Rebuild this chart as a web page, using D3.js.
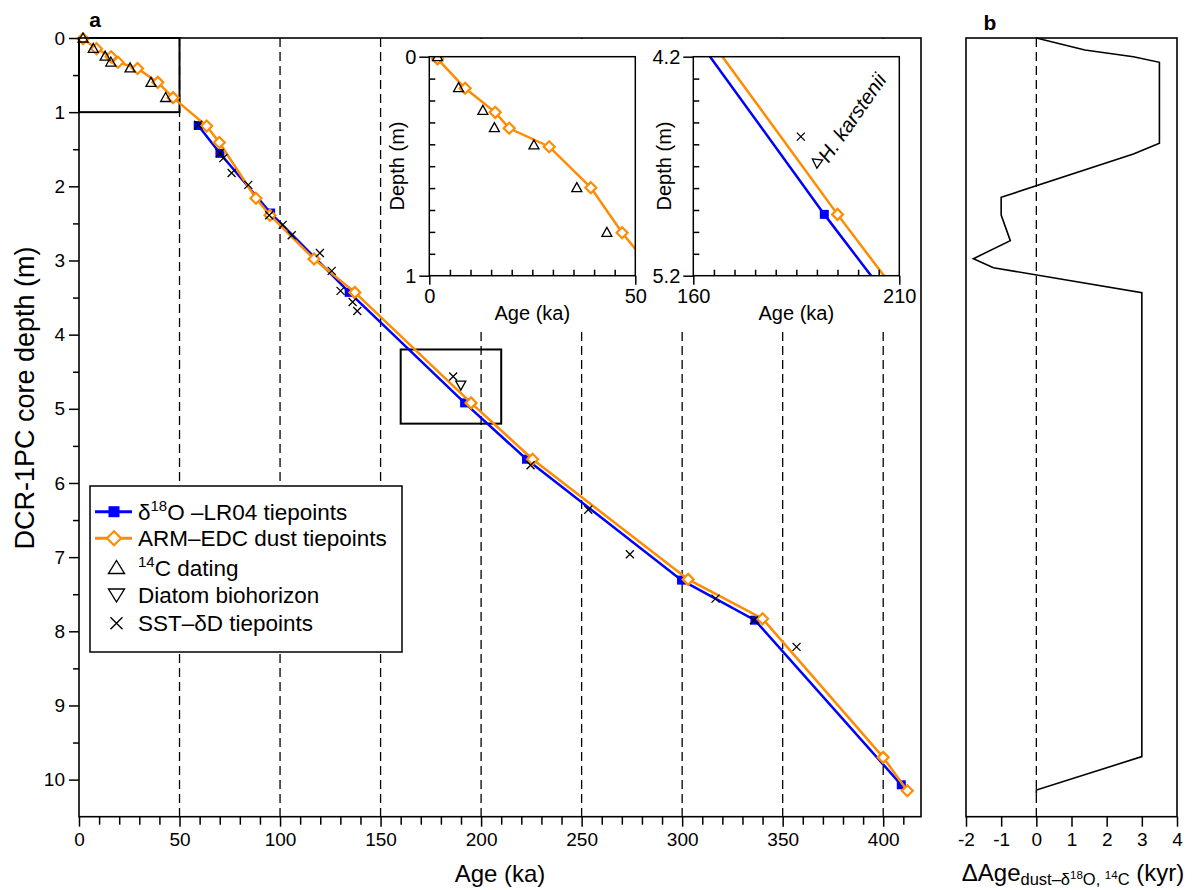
<!DOCTYPE html>
<html>
<head>
<meta charset="utf-8">
<script src="https://cdn.jsdelivr.net/npm/d3@7"></script>
<style>
body { margin: 0; background: #fff; }
text { font-family: "Liberation Sans", Arial, Helvetica, sans-serif; fill: #000; }
</style>
</head>
<body>
<svg width="1196" height="890"></svg>
<script>
// ---- data (age in ka, depth in m) ----
var o18Age   = [59.3, 70.1, 95.3, 134.4, 191.8, 222.6, 299.7, 336.2, 409.0];
var o18Depth = [1.18, 1.555, 2.36, 3.43, 4.92, 5.68, 7.31, 7.85, 10.07];

var dustAge   = [2.0, 8.7, 16.0, 19.4, 29.1, 39.2, 46.8, 63.5, 69.8, 88.0, 95.0, 116.9, 137.2, 195.0, 225.6, 303.0, 340.0, 400.0, 412.0];
var dustDepth = [0.01, 0.144, 0.254, 0.327, 0.411, 0.598, 0.804, 1.187, 1.41, 2.16, 2.39, 2.98, 3.43, 4.92, 5.68, 7.30, 7.83, 9.70, 10.15];

var c14Age   = [2.0, 7.1, 13.0, 15.8, 25.4, 35.8, 43.1];
var c14Depth = [0.0, 0.141, 0.245, 0.324, 0.403, 0.598, 0.802];

var diatomAge   = [189.9];
var diatomDepth = [4.68];

var sstAge   = [59.3, 70.1, 71.8, 75.9, 84.2, 94.6, 101.3, 105.8, 119.8, 125.7, 130.1, 136.1, 138.4, 186.1, 224.6, 253.3, 274.0, 316.6, 335.7, 356.9];
var sstDepth = [1.17, 1.55, 1.62, 1.82, 1.98, 2.39, 2.52, 2.66, 2.90, 3.14, 3.41, 3.56, 3.68, 4.565, 5.76, 6.36, 6.96, 7.56, 7.85, 8.21];

// panel b: age difference (kyr) against depth
var dAge      = [0, 1.38, 2.76, 3.5, 3.5, 2.76, -1.0, -1.0, -0.74, -1.79, -1.22, 3.0, 3.0, 0, 0];
var dAgeDepth = [0, 0.162, 0.252, 0.328, 1.42, 1.564, 2.148, 2.387, 2.733, 2.976, 3.097, 3.435, 9.69, 10.14, 10.19];

var ageTicks   = [0, 50, 100, 150, 200, 250, 300, 350, 400];
var depthTicks = [0, 1, 2, 3, 4, 5, 6, 7, 8, 9, 10];
var gridAges   = [50, 100, 150, 200, 250, 300, 350, 400];
var dAgeTicks  = [-2, -1, 0, 1, 2, 3, 4];

var BLUE = "#0000ff", ORANGE = "#ff8c00";

function zip(a, b) { return a.map(function(v, i) { return [v, b[i]]; }); }

var svg = d3.select("svg");

var x = d3.scaleLinear().domain([0, 418.8]).range([79, 921]);
var y = d3.scaleLinear().domain([0, 10.5]).range([38, 816.7]);

// marker shapes
var triUp = "M0,-5L5,4L-5,4Z";
var triDown = "M0,5L5,-4L-5,-4Z";
var diamond = "M0,-5.5L5.5,0L0,5.5L-5.5,0Z";
var cross = "M-4,-4L4,4M-4,4L4,-4";

function drawSeries(g, sx, sy) {
  var line = d3.line().x(function(d) { return sx(d[0]); }).y(function(d) { return sy(d[1]); });
  g.append("path").datum(zip(o18Age, o18Depth)).attr("d", line)
    .attr("fill", "none").attr("stroke", BLUE).attr("stroke-width", 2.5);
  g.selectAll(".sq").data(zip(o18Age, o18Depth)).enter().append("rect")
    .attr("x", function(d) { return sx(d[0]) - 4.5; }).attr("y", function(d) { return sy(d[1]) - 4.5; })
    .attr("width", 9).attr("height", 9).attr("fill", BLUE);
  g.append("path").datum(zip(dustAge, dustDepth)).attr("d", line)
    .attr("fill", "none").attr("stroke", ORANGE).attr("stroke-width", 2.5);
  g.selectAll(".dm").data(zip(dustAge, dustDepth)).enter().append("path")
    .attr("d", diamond).attr("transform", function(d) { return "translate(" + sx(d[0]) + "," + sy(d[1]) + ")"; })
    .attr("fill", "#fff").attr("stroke", ORANGE).attr("stroke-width", 2.2);
  g.selectAll(".tu").data(zip(c14Age, c14Depth)).enter().append("path")
    .attr("d", triUp).attr("transform", function(d) { return "translate(" + sx(d[0]) + "," + sy(d[1]) + ")"; })
    .attr("fill", "none").attr("stroke", "#000").attr("stroke-width", 1.3);
  g.selectAll(".cx").data(zip(sstAge, sstDepth)).enter().append("path")
    .attr("d", cross).attr("transform", function(d) { return "translate(" + sx(d[0]) + "," + sy(d[1]) + ")"; })
    .attr("fill", "none").attr("stroke", "#000").attr("stroke-width", 1.3);
}

// ---- panel a ----
var pa = svg.append("g");

pa.selectAll(".grid").data(gridAges).enter().append("line")
  .attr("x1", function(d) { return x(d); }).attr("x2", function(d) { return x(d); })
  .attr("y1", y(0)).attr("y2", y(10.5))
  .attr("stroke", "#000").attr("stroke-width", 1.3).attr("stroke-dasharray", "9,5");

// white backing of the two insets hides the dashed lines
pa.append("rect").attr("x", 385).attr("y", 39).attr("width", 535).attr("height", 289).attr("fill", "#fff");

// zoom boxes
[[0, 50, 0, 1], [160, 210, 4.2, 5.2]].forEach(function(b) {
  pa.append("rect").attr("x", x(b[0])).attr("y", y(b[2]))
    .attr("width", x(b[1]) - x(b[0])).attr("height", y(b[3]) - y(b[2]))
    .attr("fill", "none").attr("stroke", "#000").attr("stroke-width", 2);
});

pa.append("g").call(function(g) { drawSeries(g, x, y); });
pa.selectAll(".td").data(zip(diatomAge, diatomDepth)).enter().append("path")
  .attr("d", triDown).attr("transform", function(d) { return "translate(" + x(d[0]) + "," + y(d[1]) + ")"; })
  .attr("fill", "none").attr("stroke", "#000").attr("stroke-width", 1.3);

// axes
var yMajor = pa.append("g").attr("transform", "translate(" + x(0) + ",0)")
  .call(d3.axisLeft(y).tickValues(depthTicks).tickSize(10).tickPadding(4).tickFormat(d3.format("d")));
var yMinor = pa.append("g").attr("transform", "translate(" + x(0) + ",0)")
  .call(d3.axisLeft(y).tickValues(d3.range(0.5, 10.5, 1)).tickSize(6).tickFormat(""));
var xMajor = pa.append("g").attr("transform", "translate(0," + y(10.5) + ")")
  .call(d3.axisBottom(x).tickValues(ageTicks).tickSize(10).tickPadding(6).tickFormat(d3.format("d")));
var xMinor = pa.append("g").attr("transform", "translate(0," + y(10.5) + ")")
  .call(d3.axisBottom(x).tickValues(d3.range(10, 419, 10).filter(function(d) { return d % 50; })).tickSize(8).tickFormat(""));
[yMajor, yMinor, xMajor, xMinor].forEach(function(g) {
  g.select(".domain").remove();
  g.selectAll("line").attr("stroke-width", 1.5);
  g.selectAll("text").style("font-size", "19px").style("font-family", null);
});
pa.append("rect").attr("x", x(0)).attr("y", y(0))
  .attr("width", x(418.8) - x(0)).attr("height", y(10.5) - y(0))
  .attr("fill", "none").attr("stroke", "#000").attr("stroke-width", 1.6);

pa.append("text").attr("x", 500).attr("y", 882).attr("text-anchor", "middle")
  .style("font-size", "24px").text("Age (ka)");
pa.append("text").attr("transform", "translate(25,398) rotate(-90)").attr("text-anchor", "middle")
  .attr("dy", "0.35em").style("font-size", "27px").text("DCR-1PC core depth (m)");
pa.append("text").attr("x", 95).attr("y", 27).attr("text-anchor", "middle")
  .style("font-size", "21px").style("font-weight", "bold").text("a");

// ---- insets ----
function drawInset(cfg) {
  var ix = d3.scaleLinear().domain(cfg.xd).range([cfg.x0, cfg.x1]);
  var iy = d3.scaleLinear().domain(cfg.yd).range([56.7, 275.7]);
  var g = svg.append("g");
  g.append("clipPath").attr("id", cfg.id).append("rect")
    .attr("x", cfg.x0).attr("y", 56.7).attr("width", cfg.x1 - cfg.x0).attr("height", 219);
  var inner = g.append("g").attr("clip-path", "url(#" + cfg.id + ")");
  drawSeries(inner, ix, iy);

  var axes = [
    g.append("g").attr("transform", "translate(" + cfg.x0 + ",0)")
      .call(d3.axisLeft(iy).tickValues(cfg.yd).tickSize(10).tickPadding(3).tickFormat(cfg.yf)),
    g.append("g").attr("transform", "translate(" + cfg.x0 + ",0)")
      .call(d3.axisRight(iy).tickValues(cfg.yminor).tickSize(6).tickFormat("")),
    g.append("g").attr("transform", "translate(0,275.7)")
      .call(d3.axisBottom(ix).tickValues(cfg.xd).tickSize(9).tickPadding(4).tickFormat(d3.format("d"))),
    g.append("g").attr("transform", "translate(0,275.7)")
      .call(d3.axisTop(ix).tickValues(cfg.xminor).tickSize(6).tickFormat(""))
  ];
  axes.forEach(function(a) {
    a.select(".domain").remove();
    a.selectAll("line").attr("stroke-width", 1.5);
    a.selectAll("text").style("font-size", "20px").style("font-family", null);
  });
  g.append("rect").attr("x", cfg.x0).attr("y", 56.7).attr("width", cfg.x1 - cfg.x0).attr("height", 219)
    .attr("fill", "none").attr("stroke", "#000").attr("stroke-width", 1.5);
  g.append("text").attr("x", (cfg.x0 + cfg.x1) / 2).attr("y", 320).attr("text-anchor", "middle")
    .style("font-size", "20px").text("Age (ka)");
  g.append("text").attr("transform", "translate(" + cfg.ylx + ",166) rotate(-90)").attr("text-anchor", "middle")
    .attr("dy", "0.35em").style("font-size", "20px").text("Depth (m)");
  return { g: g, ix: ix, iy: iy };
}

drawInset({ id: "clip1", xd: [0, 50], yd: [0, 1], x0: 429.3, x1: 635.3, ylx: 397,
  yf: d3.format("d"), yminor: d3.range(0.1, 0.95, 0.1), xminor: d3.range(5, 50, 5) });

var in2 = drawInset({ id: "clip2", xd: [160, 210], yd: [4.2, 5.2], x0: 693.3, x1: 899.3, ylx: 664,
  yf: d3.format(".1f"), yminor: d3.range(4.3, 5.15, 0.1), xminor: d3.range(165, 210, 5) });

in2.g.selectAll(".tdi").data(zip(diatomAge, diatomDepth)).enter().append("path")
  .attr("d", triUp)
  .attr("transform", function(d) { return "translate(" + in2.ix(d[0]) + "," + in2.iy(d[1]) + ") rotate(-55)"; })
  .attr("fill", "none").attr("stroke", "#000").attr("stroke-width", 1.3);
in2.g.append("text")
  .attr("transform", "translate(" + (in2.ix(diatomAge[0]) + 12) + "," + (in2.iy(diatomDepth[0]) + 2) + ") rotate(-55)")
  .style("font-size", "20.5px").style("font-style", "italic").text("H. karstenii");

// ---- legend ----
var lg = svg.append("g");
lg.append("rect").attr("x", 90).attr("y", 486).attr("width", 312).attr("height", 166)
  .attr("fill", "#fff").attr("stroke", "#000").attr("stroke-width", 1.5);
var rows = [511.7, 538.3, 567.5, 595, 623.3];
lg.append("line").attr("x1", 95).attr("x2", 132).attr("y1", rows[0]).attr("y2", rows[0])
  .attr("stroke", BLUE).attr("stroke-width", 3);
lg.append("rect").attr("x", 108.5).attr("y", rows[0] - 5.5).attr("width", 11).attr("height", 11).attr("fill", BLUE);
lg.append("line").attr("x1", 95).attr("x2", 132).attr("y1", rows[1]).attr("y2", rows[1])
  .attr("stroke", ORANGE).attr("stroke-width", 3);
lg.append("path").attr("d", "M0,-7L7,0L0,7L-7,0Z").attr("transform", "translate(114," + rows[1] + ")")
  .attr("fill", "#fff").attr("stroke", ORANGE).attr("stroke-width", 2.2);
lg.append("path").attr("d", "M0,-7L8,6L-8,6Z").attr("transform", "translate(116.5," + rows[2] + ")")
  .attr("fill", "none").attr("stroke", "#000").attr("stroke-width", 1.4);
lg.append("path").attr("d", "M0,7L8,-6L-8,-6Z").attr("transform", "translate(116.5," + rows[3] + ")")
  .attr("fill", "none").attr("stroke", "#000").attr("stroke-width", 1.4);
lg.append("path").attr("d", "M-6,-6L6,6M-6,6L6,-6").attr("transform", "translate(116.5," + rows[4] + ")")
  .attr("fill", "none").attr("stroke", "#000").attr("stroke-width", 1.4);

function legendText(yy) {
  return lg.append("text").attr("x", 138).attr("y", yy + 8).style("font-size", "22.5px");
}
var t0 = legendText(rows[0]);
t0.append("tspan").text("\u03b4");
t0.append("tspan").attr("dy", -9).style("font-size", "15px").text("18");
t0.append("tspan").attr("dy", 9).text("O \u2013LR04 tiepoints");
legendText(rows[1]).text("ARM\u2013EDC dust tiepoints");
var t2 = legendText(rows[2]);
t2.append("tspan").attr("dy", -9).style("font-size", "15px").text("14");
t2.append("tspan").attr("dy", 9).text("C dating");
legendText(rows[3]).text("Diatom biohorizon");
legendText(rows[4]).text("SST\u2013\u03b4D tiepoints");

// ---- panel b ----
var xb = d3.scaleLinear().domain([-2, 4]).range([966, 1177]);
var pb = svg.append("g");
pb.append("line").attr("x1", xb(0)).attr("x2", xb(0)).attr("y1", y(0)).attr("y2", y(10.5))
  .attr("stroke", "#000").attr("stroke-width", 1.3).attr("stroke-dasharray", "9,5");
pb.append("path").datum(zip(dAge, dAgeDepth))
  .attr("d", d3.line().x(function(d) { return xb(d[0]); }).y(function(d) { return y(d[1]); }))
  .attr("fill", "none").attr("stroke", "#000").attr("stroke-width", 1.6);
var xbAxis = pb.append("g").attr("transform", "translate(0," + y(10.5) + ")")
  .call(d3.axisBottom(xb).tickValues(dAgeTicks).tickSize(10).tickPadding(6).tickFormat(function(d) { return String(d); }));
xbAxis.select(".domain").remove();
xbAxis.selectAll("line").attr("stroke-width", 1.5);
xbAxis.selectAll("text").style("font-size", "19px").style("font-family", null);
pb.append("rect").attr("x", xb(-2)).attr("y", y(0)).attr("width", xb(4) - xb(-2)).attr("height", y(10.5) - y(0))
  .attr("fill", "none").attr("stroke", "#000").attr("stroke-width", 1.6);
pb.append("text").attr("x", 990).attr("y", 30).attr("text-anchor", "middle")
  .style("font-size", "21px").style("font-weight", "bold").text("b");

var tb = pb.append("text").attr("x", 1073).attr("y", 881).attr("text-anchor", "middle").style("font-size", "24px");
tb.append("tspan").text("\u0394Age");
tb.append("tspan").attr("dy", 4).style("font-size", "16.5px").text("dust\u2013\u03b4");
tb.append("tspan").attr("dy", -6).style("font-size", "11.5px").text("18");
tb.append("tspan").attr("dy", 6).style("font-size", "16.5px").text("O, ");
tb.append("tspan").attr("dy", -6).style("font-size", "11.5px").text("14");
tb.append("tspan").attr("dy", 6).style("font-size", "16.5px").text("C");
tb.append("tspan").attr("dy", -4).text(" (kyr)");
</script>
</body>
</html>
